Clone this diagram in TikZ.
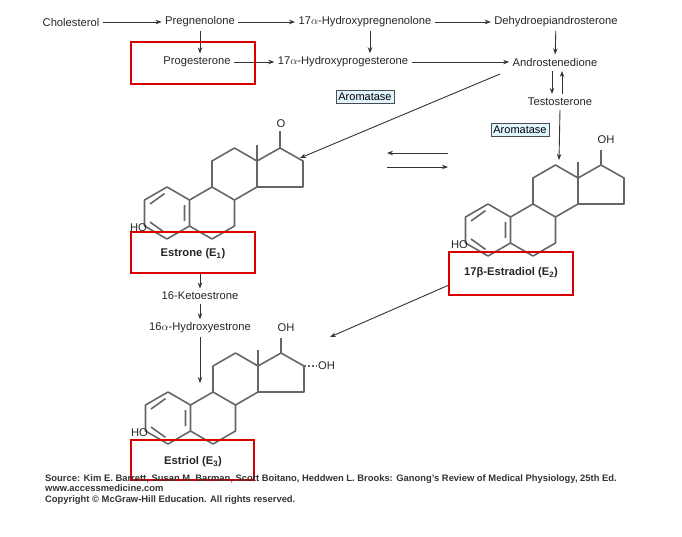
\documentclass[tikz,border=0pt]{standalone}
\usepackage{fontspec}
\setmainfont{Liberation Sans}
\usetikzlibrary{arrows.meta}
\newcommand\SterSkel{%
  \draw[bond] (0,-26)--(22.5,-13)--(22.5,13)--(0,26)--(-22.5,13)--(-22.5,-13)--cycle;
  \draw[bond] (22.5,-13)--(45,-26)--(67.5,-13)--(67.5,13)--(45,26)--(22.5,13);
  \draw[bond] (45,-26)--(45,-52)--(67.5,-65)--(90,-52)--(90,-26)--(67.5,-13);
  \draw[bond] (90,-52)--(113,-65)--(136,-52)--(136,-26)--(90,-26);
  \draw[bond] (90,-52)--(90,-68);
  \draw[bond] (-17,-9)--(-2.5,-19.4) (17.5,-8)--(17.5,8) (-17,9)--(-2.5,19.4);
  \node[lbl,anchor=east,inner sep=0pt] at (-20,15) {HO};
}
\begin{document}
\begin{tikzpicture}[x=1pt,y=-1pt,
  lbl/.style={font=\fontsize{11.2}{13}\selectfont,text=black!85},
  bond/.style={draw=black!60,line width=1.6pt,line join=round},
  arr/.style={-{Stealth[length=6pt,width=4.5pt]},line width=0.9pt,black!80},
  redbox/.style={draw=red!85!black,line width=2.4pt},
  enz/.style={draw=black!70,fill=cyan!12,line width=0.7pt,inner sep=2.5pt,font=\fontsize{11}{13}\selectfont}]
\useasboundingbox (0,0) rectangle (682,536);
% row 1
\node[lbl] (chol) at (71,22) {Cholesterol};
\node[lbl] (preg) at (200,22) {Pregnenolone};
\node[lbl] (hpreg) at (365,22) {17$\alpha$-Hydroxypregnenolone};
\node[lbl] (dhea) at (556,22) {Dehydroepiandrosterone};
\node[lbl] (prog) at (197,62) {Progesterone};
\node[lbl] (hprog) at (343,62) {17$\alpha$-Hydroxyprogesterone};
\node[lbl] (andro) at (555,62) {Androstenedione};
\node[lbl] (testo) at (560,102) {Testosterone};
\node[enz] (aro1) at (365,97) {Aromatase};
\node[enz] (aro2) at (520,130) {Aromatase};
\draw[arr] (chol) -- (preg);
\draw[arr] (preg) -- (hpreg);
\draw[arr] (hpreg) -- (dhea);
\draw[arr] (preg.south -| 200,0) -- (prog.north -| 200,0);
\draw[arr] (hpreg.south -| 370,0) -- (hprog.north -| 370,0);
\draw[arr] (dhea) -- (andro);
\draw[arr] (prog) -- (hprog);
\draw[arr] (hprog) -- (andro);
\draw[arr] (552,71) -- (552,94);
\draw[arr] (562,94) -- (562,71);
\coordinate (c1) at (500,74);
\coordinate (c2) at (300,158);
\draw[arr] (c1) -- (c2);
\coordinate (t1) at (560,110);
\coordinate (t2) at (559,160);
\draw[arr] (t1) -- (t2);
\coordinate (e1) at (448,153); \coordinate (e2) at (387,153);
\coordinate (e3) at (387,167); \coordinate (e4) at (448,167);
\draw[arr] (e1) -- (e2);
\draw[arr] (e3) -- (e4);
% estrone
\begin{scope}[shift={(167,213)}]
  \SterSkel
  \draw[bond] (113,-65)--(113,-82);
  \node[lbl] at (114,-89) {O};
\end{scope}
% estradiol
\begin{scope}[shift={(488,230)}]
  \SterSkel
  \draw[bond] (113,-65)--(113,-80);
  \node[lbl] at (118,-90) {OH};
\end{scope}
% estriol
\begin{scope}[shift={(168,418)}]
  \SterSkel
  \draw[bond] (113,-65)--(113,-80);
  \node[lbl] at (118,-90) {OH};
  \draw[bond,dash pattern=on 2pt off 2pt] (136,-52)--(149,-52);
  \node[lbl,anchor=west,inner sep=1pt] at (149,-52) {OH};
\end{scope}
\node[lbl] (ket) at (200,296) {16-Ketoestrone};
\node[lbl] (hyd) at (200,328) {16$\alpha$-Hydroxyestrone};
\coordinate (estr) at (200,274);
\coordinate (estriol) at (200,383);
\draw[arr] (estr) -- (ket);
\draw[arr] (ket) -- (hyd);
\draw[arr] (hyd) -- (estriol);
\coordinate (d1) at (449,285); \coordinate (d2) at (330,337);
\draw[arr] (d1) -- (d2);
% red boxes
\draw[redbox] (131,42) rectangle (255,84);
\node[lbl] at (193,254) {\textbf{Estrone (E\textsubscript{1})}};
\draw[redbox] (131,232) rectangle (255,273);
\node[lbl] at (511,273) {\textbf{17β-Estradiol (E\textsubscript{2})}};
\draw[redbox] (449,252) rectangle (573,295);
\node[lbl] at (193,462) {\textbf{Estriol (E\textsubscript{3})}};
\draw[redbox] (131,440) rectangle (254,480);
% source
\node[anchor=north west,align=left,inner sep=0pt,font=\fontsize{9.4}{10.5}\selectfont\bfseries,text=black!80] at (45,474)
{Source: Kim E. Barrett, Susan M. Barman, Scott Boitano, Heddwen L. Brooks: Ganong's Review of Medical Physiology, 25th Ed.\\
www.accessmedicine.com\\
Copyright \textcopyright\ McGraw-Hill Education. All rights reserved.};
\end{tikzpicture}
\end{document}
